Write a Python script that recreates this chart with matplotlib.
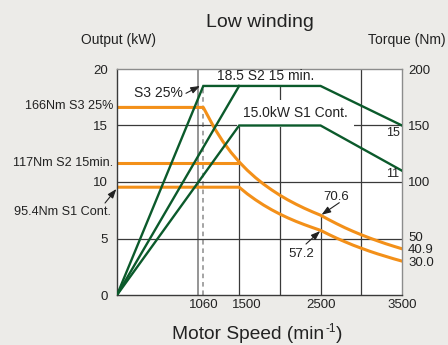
import matplotlib
matplotlib.use("Agg")
import matplotlib.pyplot as plt
from matplotlib.transforms import ScaledTranslation

plt.rcParams["font.family"] = ["Liberation Sans", "DejaVu Sans"]
plt.rcParams["mathtext.fontset"] = "custom"
plt.rcParams["mathtext.rm"] = "Liberation Sans"
plt.rcParams["mathtext.it"] = "Liberation Sans:italic"
plt.rcParams["mathtext.bf"] = "Liberation Sans:bold"

# ---- output power (kW) against motor speed (min^-1) ----
s3_power_speed = [0, 1060, 2500, 3500]
s3_power_kw = [0, 18.5, 18.5, 15.0]
s2_power_speed = [0, 1500]
s2_power_kw = [0, 18.5]
s1_power_speed = [0, 1500, 2500, 3500]
s1_power_kw = [0, 15.0, 15.0, 11.0]

# ---- torque (Nm) against motor speed ----
s3_torque_speed = [0, 1060, 1100, 1200, 1300, 1400, 1500, 1600, 1700, 1800,
                   1900, 2000, 2100, 2200, 2300, 2400, 2500, 2600, 2700,
                   2800, 2900, 3000, 3100, 3200, 3300, 3400, 3500]
s3_torque_nm = [166, 166, 160.6, 147.2, 135.9, 126.2, 117.8, 110.4, 103.9,
                98.1, 93.0, 88.3, 84.1, 80.3, 76.8, 73.6, 70.6, 66.7, 63.0,
                59.5, 56.3, 53.3, 50.5, 47.9, 45.4, 43.1, 40.9]
s2_torque_speed = [0, 1500]
s2_torque_nm = [117, 117]
s1_torque_speed = [0, 1500, 1600, 1700, 1800, 1900, 2000, 2100, 2200, 2300,
                   2400, 2500, 2600, 2700, 2800, 2900, 3000, 3100, 3200,
                   3300, 3400, 3500]
s1_torque_nm = [95.4, 95.4, 89.5, 84.3, 79.6, 75.4, 71.6, 68.2, 65.1, 62.3,
                59.7, 57.2, 53.6, 50.2, 47.1, 44.1, 41.4, 38.8, 36.4, 34.2,
                32.0, 30.0]

# ---- axis ticks ----
speed_ticks = [1060, 1500, 2500, 3500]
speed_tick_labels = ["1060", "1500", "2500", "3500"]
power_ticks = [0, 5, 10, 15, 20]
power_tick_labels = ["0", "5", "10", "15", "20"]
torque_ticks = [200, 150, 100, 50, 40.9, 30.0]
torque_tick_labels = ["200", "150", "100", "50", "40.9", "30.0"]

# reference grid (speed lines with their upper end in Nm, torque lines)
grid_speeds = [1000, 1500, 2000, 2500, 3000]
grid_speed_tops = [200, 150, 185, 70.6, 200]
grid_torques = [50, 100, 150]

GREEN = "#0b5a2b"
ORANGE = "#f39019"
DARK = "#3a3a3a"
GREY = "#8c8c8c"
BG = "#ecebe8"

W, H = 448, 345
fig = plt.figure(figsize=(W / 100, H / 100), dpi=100, facecolor=BG)


def fx(px):
    return px / W


def fy(py):
    return 1 - py / H


rect = [fx(117), fy(295), fx(402) - fx(117), fy(69) - fy(295)]
ax_p = fig.add_axes(rect)
ax_t = ax_p.twinx()

# torque axis sits underneath with the white plotting area
ax_p.set_zorder(ax_t.get_zorder() + 1)
ax_p.patch.set_visible(False)
ax_t.patch.set_visible(True)
ax_t.patch.set_facecolor("white")

ax_p.set_xlim(0, 3500)
ax_p.set_ylim(0, 20)
ax_t.set_ylim(0, 200)

# grid
for s, top in zip(grid_speeds, grid_speed_tops):
    col = GREY if s == 1000 else DARK
    lw = 1.3 if s == 1000 else 0.9
    ax_t.plot([s, s], [0, top], color=col, lw=lw, zorder=1)
ax_t.plot([1060, 1060], [0, 185], color=GREY, lw=1.1,
          linestyle=(0, (3, 2.5)), zorder=1)
for t in grid_torques:
    ax_t.plot([0, 3500], [t, t], color=DARK, lw=0.9, zorder=1)

# torque curves
ax_t.plot(s3_torque_speed, s3_torque_nm, color=ORANGE, lw=2.2, zorder=2,
          solid_joinstyle="round")
ax_t.plot(s2_torque_speed, s2_torque_nm, color=ORANGE, lw=2.2, zorder=2)
ax_t.plot(s1_torque_speed, s1_torque_nm, color=ORANGE, lw=2.2, zorder=2,
          solid_joinstyle="round")

# power curves
for xs, ys in ((s3_power_speed, s3_power_kw),
               (s2_power_speed, s2_power_kw),
               (s1_power_speed, s1_power_kw)):
    ax_p.plot(xs, ys, color=GREEN, lw=1.7, zorder=3, solid_joinstyle="miter")

# spines
for side in ("left", "bottom"):
    ax_p.spines[side].set_color(DARK)
    ax_p.spines[side].set_linewidth(1.0)
for side in ("top", "right"):
    ax_p.spines[side].set_color(GREY)
    ax_p.spines[side].set_linewidth(1.0)
for sp in ax_t.spines.values():
    sp.set_visible(False)

# ticks
ax_p.set_xticks(speed_ticks, speed_tick_labels)
ax_p.set_yticks(power_ticks, power_tick_labels)
ax_t.set_yticks(torque_ticks, torque_tick_labels)
ax_p.tick_params(axis="x", length=0, pad=3.2, labelsize=9.5, colors="#222")
ax_p.tick_params(axis="y", length=0, pad=6.3, labelsize=9.5, colors="#222")
ax_t.tick_params(axis="y", length=0, pad=4.3, labelsize=9.5, colors="#222")
for lab in ax_p.get_xticklabels():
    if lab.get_text() == "1500":
        lab.set_transform(lab.get_transform()
                          + ScaledTranslation(8 / 100, 0, fig.dpi_scale_trans))
for lab in ax_t.get_yticklabels():
    if lab.get_text() == "50":
        lab.set_transform(lab.get_transform()
                          + ScaledTranslation(0, 2 / 100, fig.dpi_scale_trans))

# titles and axis captions
TXT = "#222222"
fig.text(fx(260), fy(26.7), "Low winding", ha="center", va="baseline",
         fontsize=14, color=TXT)
fig.text(fx(118.7), fy(44.3), "Output (kW)", ha="center", va="baseline",
         fontsize=10, color=TXT)
fig.text(fx(407), fy(44.3), "Torque (Nm)", ha="center", va="baseline",
         fontsize=10, color=TXT)
# x caption: main words plus a small raised "-1"
xcap = fig.text(fx(172), fy(339), "Motor Speed (min", ha="left",
                va="baseline", fontsize=13.8, color=TXT)
fig.canvas.draw()
bb = xcap.get_window_extent()
sup = fig.text(bb.x1 / W + fx(1), fy(331.5), "-1", ha="left", va="baseline",
               fontsize=8.5, color=TXT)
fig.canvas.draw()
bb2 = sup.get_window_extent()
fig.text(bb2.x1 / W + fx(0.5), fy(339), ")", ha="left", va="baseline",
         fontsize=13.8, color=TXT)

# torque captions at the left
fig.text(fx(113.3), fy(109.3), "166Nm S3 25%", ha="right", va="baseline",
         fontsize=9.1, color=TXT)
fig.text(fx(113.3), fy(165.7), "117Nm S2 15min.", ha="right", va="baseline",
         fontsize=9.1, color=TXT)
fig.text(fx(110.5), fy(215), "95.4Nm S1 Cont.", ha="right", va="baseline",
         fontsize=9.1, color=TXT)

arrow = dict(arrowstyle="-|>,head_length=0.55,head_width=0.2", color="#222",
             lw=0.8, shrinkA=0, shrinkB=0)

ax_p.annotate("", xy=(-8, 9.38), xytext=(-147, 8.14), arrowprops=arrow,
              annotation_clip=False)

# in-plot captions
ax_p.text(507, 17.55, "S3 25%", ha="center", va="baseline", fontsize=10,
          color=TXT, zorder=4)
ax_p.annotate("", xy=(1019, 18.5), xytext=(847, 17.85), arrowprops=arrow)

ax_p.text(1232, 19.03, "18.5 S2 15 min.", ha="left", va="baseline",
          fontsize=10, color=TXT, zorder=4)
ax_p.text(1551, 15.73, "15.0kW S1 Cont.", ha="left", va="baseline",
          fontsize=10, color=TXT, zorder=2,
          bbox=dict(boxstyle="square,pad=0.45", fc="white", ec="none"))

ax_p.text(3474, 14.1, "15", ha="right", va="baseline", fontsize=9,
          color=TXT, zorder=4)
ax_p.text(3463, 10.42, "11", ha="right", va="baseline", fontsize=9,
          color=TXT, zorder=4)

ax_p.text(2693, 8.41, "70.6", ha="center", va="baseline", fontsize=9.5,
          color=TXT, zorder=4)
ax_p.annotate("", xy=(2512, 7.1), xytext=(2730, 8.17), arrowprops=arrow)
ax_p.text(2266, 3.39, "57.2", ha="center", va="baseline", fontsize=9.5,
          color=TXT, zorder=4)
ax_p.annotate("", xy=(2495, 5.66), xytext=(2321, 4.51), arrowprops=arrow)

fig.savefig("out.png", dpi=100, facecolor=BG)
